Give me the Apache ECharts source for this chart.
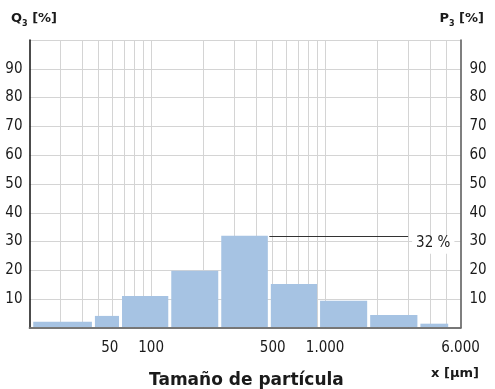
<!DOCTYPE html>
<html>
<head>
<meta charset="utf-8">
<script src="https://cdn.jsdelivr.net/npm/echarts@6/dist/echarts.min.js"></script>
<style>
  html, body { margin: 0; padding: 0; background: #fff; }
  #chart { width: 495px; height: 389px; }
</style>
</head>
<body>
<div id="chart"></div>
<script>
// Particle size classes (µm) and the volume share of each class (%)
const classEdges = [20.6, 46.6, 66.7, 128, 248, 478, 917, 1780, 3460, 5200];
const classShares = [2.2, 4.2, 11.1, 19.9, 32, 15.3, 9.5, 4.5, 1.5];

// Axis ranges and ticks
const xMin = 20, xMax = 6000;
const xGridValues = [30, 40, 50, 60, 70, 80, 90, 100, 200, 300, 400, 500, 600, 700, 800, 900, 1000, 2000, 3000, 4000, 5000];
const xLabelValues = [50, 100, 500, 1000, 6000];
const yMin = 0, yMax = 100, yStep = 10;

// Callout for the largest class
const peakShare = 32;
const peakLineFrom = 478, peakLineTo = 3000;

const FONT = "'DejaVu Sans Condensed', 'DejaVu Sans', sans-serif";
const HEAD_FONT = "'DejaVu Sans', sans-serif";
const TEXT = '#1a1a1a';

const bars = classShares.map((v, i) => [classEdges[i], classEdges[i + 1], v]);

function fmtThousands(v) {
  return String(v).replace(/\B(?=(\d{3})+(?!\d))/g, '.');
}

const headRich = {
  b: { fontFamily: HEAD_FONT, fontWeight: 'bold', fontSize: 13, color: TEXT, lineHeight: 18 },
  s: { fontFamily: HEAD_FONT, fontWeight: 'bold', fontSize: 8, color: TEXT, lineHeight: 18, padding: [9, 0, 0, 0] }
};

const chart = echarts.init(document.getElementById('chart'), null, { renderer: 'canvas' });

chart.setOption({
  animation: false,
  backgroundColor: '#fff',
  textStyle: { fontFamily: FONT },
  title: [
    { text: '{b|Q}{s|3}{b| [%]}', left: 6, top: 5, textStyle: { rich: headRich } },
    { text: '{b|P}{s|3}{b| [%]}', right: 6, top: 5, textStyle: { rich: headRich } },
    {
      text: 'Tamaño de partícula',
      left: 144, top: 367,
      textStyle: { fontFamily: HEAD_FONT, fontWeight: 'bold', fontSize: 17, color: TEXT }
    },
    {
      text: 'x [µm]',
      right: 11, top: 362,
      textStyle: { fontFamily: HEAD_FONT, fontWeight: 'bold', fontSize: 13, color: TEXT }
    }
  ],
  grid: { left: 29.5, right: 34.5, top: 40, bottom: 61, containLabel: false },
  xAxis: [
    {
      type: 'log', logBase: 10, min: xMin, max: xMax,
      position: 'bottom',
      axisLine: { show: true, lineStyle: { color: '#111', width: 1.5 } },
      axisTick: { show: false },
      splitLine: { show: false },
      minorSplitLine: { show: false },
      axisLabel: {
        customValues: xLabelValues,
        margin: 13,
        fontFamily: FONT, fontSize: 15, color: TEXT,
        formatter: v => (v === 50 ? '{shift|50}' : fmtThousands(Math.round(v))),
        rich: { shift: { fontFamily: FONT, fontSize: 15, color: TEXT, padding: [0, 0, 0, 22] } }
      }
    },
    {
      type: 'log', logBase: 10, min: xMin, max: xMax,
      position: 'top',
      axisLine: { show: true, lineStyle: { color: '#888', width: 1.5 } },
      axisTick: { show: false }, axisLabel: { show: false }, splitLine: { show: false }
    }
  ],
  yAxis: [
    {
      type: 'value', min: yMin, max: yMax, interval: yStep, position: 'left',
      axisLine: { show: true, lineStyle: { color: '#111', width: 1.5 } },
      axisTick: { show: false },
      splitLine: { show: true, lineStyle: { color: '#d4d4d4', width: 1 } },
      axisLabel: {
        margin: 7, fontFamily: FONT, fontSize: 15, color: TEXT,
        formatter: v => (v <= yMin || v >= yMax ? '' : String(v))
      }
    },
    {
      type: 'value', min: yMin, max: yMax, interval: yStep, position: 'right',
      axisLine: { show: true, lineStyle: { color: '#555', width: 1.5 } },
      axisTick: { show: false },
      splitLine: { show: false },
      axisLabel: {
        margin: 9, fontFamily: FONT, fontSize: 15, color: TEXT,
        formatter: v => (v <= yMin || v >= yMax ? '' : String(v))
      }
    }
  ],
  series: [
    {
      // vertical grid lines at the log-decade subdivisions
      type: 'line', xAxisIndex: 0, yAxisIndex: 0, data: [], z: 0, silent: true,
      markLine: {
        z: 0, zlevel: 0,
        silent: true, symbol: ['none', 'none'], animation: false,
        label: { show: false },
        lineStyle: { color: '#d4d4d4', width: 1, type: 'solid' },
        data: xGridValues.map(v => ({ xAxis: v }))
      }
    },
    {
      type: 'custom', xAxisIndex: 0, yAxisIndex: 0, z: 3,
      encode: { x: [0, 1], y: 2 },
      data: bars,
      renderItem: (params, api) => {
        const topLeft = api.coord([api.value(0), api.value(2)]);
        const bottomRight = api.coord([api.value(1), 0]);
        const gap = 1.5;
        return {
          type: 'rect',
          shape: {
            x: topLeft[0] + gap,
            y: topLeft[1],
            width: bottomRight[0] - topLeft[0] - 2 * gap,
            height: bottomRight[1] - topLeft[1] - 1
          },
          style: { fill: '#a6c3e3' }
        };
      },
      markLine: {
        z: 5,
        silent: true, symbol: ['none', 'none'], animation: false,
        lineStyle: { color: '#333', width: 1, type: 'solid' },
        label: {
          show: true, position: 'end', distance: 4,
          verticalAlign: 'top',
          formatter: () => peakShare + ' %',
          fontFamily: FONT, fontSize: 15, color: TEXT,
          backgroundColor: '#fff', padding: [0, 4, 3, 4]
        },
        data: [[{ coord: [peakLineFrom, peakShare] }, { coord: [peakLineTo, peakShare] }]]
      }
    }
  ]
});
</script>
</body>
</html>
